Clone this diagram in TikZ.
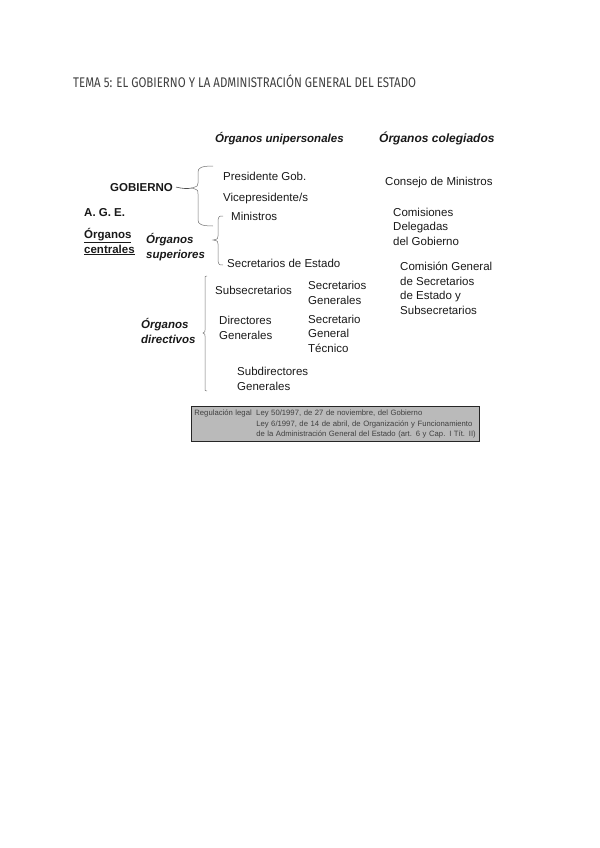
\documentclass[tikz,border=0pt]{standalone}
\usepackage{fontspec}
\setmainfont{Liberation Sans}
\newfontfamily\titlefont[FakeStretch=0.82]{Fira Sans}
\usetikzlibrary{positioning}

\begin{document}
\begin{tikzpicture}[x=1bp, y=-1bp,
    txt/.style={font=\fontsize{11.5bp}{14.5bp}\selectfont, text=black!90, inner sep=0pt, align=left, anchor=base west},
    head/.style={txt, font=\fontsize{11.5bp}{14.5bp}\selectfont\bfseries\itshape},
    strong/.style={txt, font=\fontsize{11.5bp}{14.5bp}\selectfont\bfseries},
    bracket/.style={draw=black!55, line width=0.5bp},
    link/.style={draw=black!70, line width=0.6bp},
    legal/.style={draw=black!85, line width=0.8bp, fill=black!27, text=black!75, inner xsep=3bp, inner ysep=1.5bp,
      anchor=north west, text width=282bp, minimum height=35bp, font=\fontsize{7.7bp}{10.5bp}\selectfont}
  ]
    \useasboundingbox (0,0) rectangle (600,848);
    \node[font=\titlefont\fontsize{14bp}{16bp}\selectfont, text=black!75, anchor=base west, inner sep=0pt] (title) at (73,87)
      {TEMA 5: EL GOBIERNO Y LA ADMINISTRACIÓN GENERAL DEL ESTADO};

    % column heads (multi-line nodes sit on their last line)
    \node[head] (unip) at (215,142) {Órganos unipersonales};
    \node[head, font=\fontsize{12bp}{14.5bp}\selectfont\bfseries\itshape] (coleg) at (379,142) {Órganos colegiados};

    % left column
    \node[strong] (gob) at (110,191) {GOBIERNO};
    \node[strong, below left=25bp and 26bp of gob.base west, anchor=base west] (age) {A. G. E.};
    \node[strong, below=37bp of age.base west, anchor=base west] (centrales) {\underline{Órganos}\\\underline{centrales}};
    \node[head] (superiores) at (146,258) {Órganos\\superiores};
    \node[head] (directivos) at (141,343) {Órganos\\directivos};

    % unipersonales
    \node[txt] (pres) at (223,180) {Presidente Gob.};
    \node[txt, below=21bp of pres.base west, anchor=base west] (vice) {Vicepresidente/s};
    \node[txt, below right=19bp and 8bp of vice.base west, anchor=base west] (ministros) {Ministros};
    \node[txt] (secest) at (227,267) {Secretarios de Estado};
    \node[txt] (subsec) at (215,294) {Subsecretarios};
    \node[txt] (secgen) at (308,304) {Secretarios\\Generales};
    \node[txt] (dirgen) at (219,339) {Directores\\Generales};
    \node[txt] (sgt) at (308,352) {Secretario\\General\\Técnico};
    \node[txt] (subdir) at (237,390) {Subdirectores\\Generales};

    % colegiados
    \node[txt] (consejo) at (385,185) {Consejo de Ministros};
    \node[txt, below right=60bp and 8bp of consejo.base west, anchor=base west] (comisiones) {Comisiones\\Delegadas\\del Gobierno};
    \node[txt] (comgen) at (400,314) {Comisión General\\de Secretarios\\de Estado y\\Subsecretarios};

    % braces
    \coordinate (tipgob) at (192,188);
    \coordinate (tipsup) at (213,240);
    \coordinate (tipdir) at (203,333);
    \draw[bracket] (213,166) .. controls (201,166) and (198,168) .. (198,172) -- (198,183)
      .. controls (198,186) .. (tipgob) .. controls (198,190) .. (198,194) -- (198,220)
      .. controls (198,224) and (201,226) .. (213,226);
    \draw[bracket] (223,216) .. controls (219,216) .. (218,220) -- (218,236)
      .. controls (218,239) .. (tipsup) .. controls (218,241) .. (218,244) -- (218,261)
      .. controls (219,265) .. (223,265);
    \draw[bracket] (207,276) .. controls (205,276) .. (205,279) -- (205,330)
      .. controls (205,332) .. (tipdir) .. controls (205,334) .. (205,336) -- (205,388)
      .. controls (205,391) .. (207,391);
    \draw[link] ([xshift=3bp]gob.east) .. controls +(6bp,-1.5bp) and +(-5bp,-1bp) .. (tipgob);

    % legal box
    \node[legal] (ley) at (191,406) {\begin{tabular}{@{}l@{\hspace{4.5bp}}l@{}}
      Regulación legal & Ley 50/1997, de 27 de noviembre, del Gobierno\\
       & Ley 6/1997, de 14 de abril, de Organización y Funcionamiento\\
       & de la Administración General del Estado (art. 6 y Cap. I Tít. II)
      \end{tabular}};
  \end{tikzpicture}
\end{document}
